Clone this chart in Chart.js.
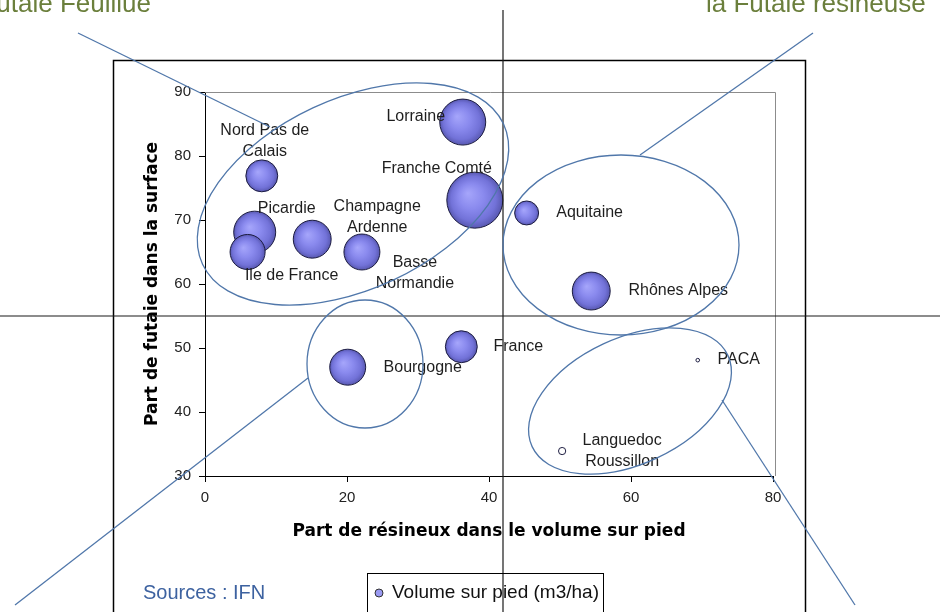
<!DOCTYPE html>
<html>
<head>
<meta charset="utf-8">
<script src="https://cdn.jsdelivr.net/npm/chart.js@4.4.1/dist/chart.umd.min.js"></script>
<style>
  html, body { margin: 0; padding: 0; background: #fff; }
  canvas { display: block; }
</style>
</head>
<body>
<canvas id="myChart" width="940" height="612"></canvas>
<script>
// Regions and their values
const regions = ['Nord Pas de\nCalais', 'Picardie', 'Ile de France', 'Champagne\nArdenne', 'Basse\nNormandie',
  'Lorraine', 'Franche Comté', 'Aquitaine', 'Rhônes Alpes', 'Bourgogne', 'France', 'PACA', 'Languedoc\nRoussillon'];
const resineux = [8.0, 7.0, 6.0, 15.1, 22.1, 36.3, 38.0, 45.3, 54.4, 20.1, 36.1, 69.4, 50.3];   // % résineux (x)
const futaie = [76.9, 68.1, 65.0, 67.0, 65.0, 85.3, 73.1, 71.1, 58.9, 47.0, 50.2, 48.1, 33.9];  // % futaie (y)
const volume = [78, 135, 94, 110, 99, 162, 240, 44, 110, 99, 78, 1, 4];                          // m3/ha (bubble size)
const xTicks = [0, 20, 40, 60, 80];
const yTicks = [30, 40, 50, 60, 70, 80, 90];

// label offsets from the bubble centre (px)
const labelOffsets = [[3, -45], [32, -24], [44, 24], [65, -33], [53, 11], [-47, -5], [-38, -32],
  [63, 0], [87, 0], [75, 0], [57, 0], [41, -1], [60, -10]];

const maxVol = Math.max(...volume);
const bubbles = resineux.map((x, i) => ({ x: x, y: futaie[i], r: 28 * Math.sqrt(volume[i] / maxVol) }));

function bubbleFill(ctx) {
  if (ctx.type !== 'data') return '#8484ec';
  const chart = ctx.chart, p = ctx.raw;
  if (p.r < 5) return '#ffffff';
  const px = chart.scales.x.getPixelForValue(p.x);
  const py = chart.scales.y.getPixelForValue(p.y);
  if (!isFinite(px) || !isFinite(py)) return '#8484ec';
  const g = chart.ctx.createRadialGradient(px - p.r * 0.25, py - p.r * 0.25, 0, px, py, p.r);
  g.addColorStop(0, '#a6a6fb');
  g.addColorStop(0.45, '#8a8aee');
  g.addColorStop(0.8, '#7272d8');
  g.addColorStop(1, '#5858b0');
  return g;
}

const lineBlue = '#5077aa';

function ellipse(c, cx, cy, a, b, deg) {
  c.beginPath();
  c.ellipse(cx, cy, a, b, deg * Math.PI / 180, 0, Math.PI * 2);
  c.stroke();
}
function seg(c, x1, y1, x2, y2) {
  c.beginPath();
  c.moveTo(x1, y1);
  c.lineTo(x2, y2);
  c.stroke();
}

const decor = {
  id: 'decor',
  beforeDatasetsDraw(chart) {
    const c = chart.ctx, a = chart.chartArea;
    c.save();
    // outer frame
    c.strokeStyle = '#000';
    c.lineWidth = 1.5;
    c.strokeRect(113.5, 60.5, 692, 600);
    // plot area border (top / right)
    c.strokeStyle = '#8c8c8c';
    c.lineWidth = 1;
    c.beginPath();
    c.moveTo(a.left, a.top + 0.5);
    c.lineTo(a.right + 2.5, a.top + 0.5);
    c.lineTo(a.right + 2.5, a.bottom);
    c.stroke();
    c.restore();
  },
  afterDraw(chart) {
    const c = chart.ctx;
    const sx = chart.scales.x, sy = chart.scales.y;
    c.save();

    // point labels
    c.fillStyle = '#1e1e1e';
    c.font = '16px "Liberation Sans", Arial, sans-serif';
    c.textAlign = 'center';
    c.textBaseline = 'middle';
    regions.forEach((name, i) => {
      const px = sx.getPixelForValue(resineux[i]) + labelOffsets[i][0];
      const py = sy.getPixelForValue(futaie[i]) + labelOffsets[i][1];
      name.split('\n').forEach((line, k) => c.fillText(line, px, py + k * 21));
    });

    // big cross
    c.strokeStyle = '#1a1a1a';
    c.lineWidth = 1.2;
    seg(c, 503, 10, 503, 612);
    seg(c, 0, 316, 940, 316);

    // groups and pointer lines
    c.strokeStyle = lineBlue;
    c.lineWidth = 1.3;
    ellipse(c, 353, 194, 166, 95, -25);
    ellipse(c, 621, 245, 118, 90, 0);
    ellipse(c, 365, 364, 58, 64, 0);
    ellipse(c, 630, 401, 108, 63, -25);
    seg(c, 78, 33, 270, 127);
    seg(c, 813, 33, 640, 155);
    seg(c, 15, 605, 308, 378);
    seg(c, 722, 400, 855, 605);

    // corner captions
    c.fillStyle = '#6b7f3c';
    c.font = '26px "Liberation Sans", Arial, sans-serif';
    c.textBaseline = 'alphabetic';
    c.textAlign = 'right';
    c.fillText('la Futaie Feuillue', 151, 12);
    c.textAlign = 'left';
    c.fillText('la Futaie résineuse', 706, 12);

    // sources
    c.fillStyle = '#3d62a0';
    c.font = '20px "Liberation Sans", Arial, sans-serif';
    c.textBaseline = 'middle';
    c.fillText('Sources : IFN', 143, 593);

    // legend
    c.strokeStyle = '#000';
    c.lineWidth = 1;
    c.strokeRect(367.5, 573.5, 236, 40);
    c.beginPath();
    c.arc(379, 593, 4, 0, Math.PI * 2);
    c.fillStyle = '#9a9af2';
    c.fill();
    c.strokeStyle = '#333';
    c.stroke();
    c.fillStyle = '#111';
    c.font = '19px "Liberation Sans", Arial, sans-serif';
    c.fillText(chart.data.datasets[0].label, 392, 593);

    c.restore();
  }
};

const tickFont = { family: '"Liberation Sans", Arial, sans-serif', size: 15 };
const titleFont = { family: '"DejaVu Sans", Verdana, sans-serif', size: 17, weight: 'bold' };

new Chart(document.getElementById('myChart').getContext('2d'), {
  type: 'bubble',
  data: {
    datasets: [{
      label: 'Volume sur pied (m3/ha)',
      data: bubbles,
      backgroundColor: bubbleFill,
      borderColor: '#1c1c40',
      borderWidth: 1,
      hoverRadius: 0,
      clip: false
    }]
  },
  options: {
    responsive: false,
    animation: false,
    devicePixelRatio: 1,
    layout: { padding: { left: 140, right: 167, top: 92, bottom: 52 } },
    plugins: { legend: { display: false }, tooltip: { enabled: false } },
    scales: {
      x: {
        type: 'linear', min: 0, max: 80,
        afterBuildTicks: s => { s.ticks = xTicks.map(v => ({ value: v })); },
        afterFit: s => { s.height = 84; },
        border: { color: '#000', width: 1 },
        grid: { drawOnChartArea: false, tickLength: 6, color: '#000' },
        ticks: { color: '#222', font: tickFont, padding: 7 },
        title: { display: true, text: 'Part de résineux dans le volume sur pied', color: '#000', font: titleFont, padding: { top: 0, bottom: 18 } }
      },
      y: {
        type: 'linear', min: 30, max: 90,
        afterBuildTicks: s => { s.ticks = yTicks.map(v => ({ value: v })); },
        afterFit: s => { s.width = 65; },
        border: { color: '#000', width: 1 },
        grid: { drawOnChartArea: false, tickLength: 6, color: '#000' },
        ticks: { color: '#222', font: tickFont, padding: 8 },
        title: { display: true, text: 'Part de futaie dans la surface', color: '#000', font: titleFont, padding: { top: 2, bottom: 0 } }
      }
    }
  },
  plugins: [decor]
});
</script>
</body>
</html>
